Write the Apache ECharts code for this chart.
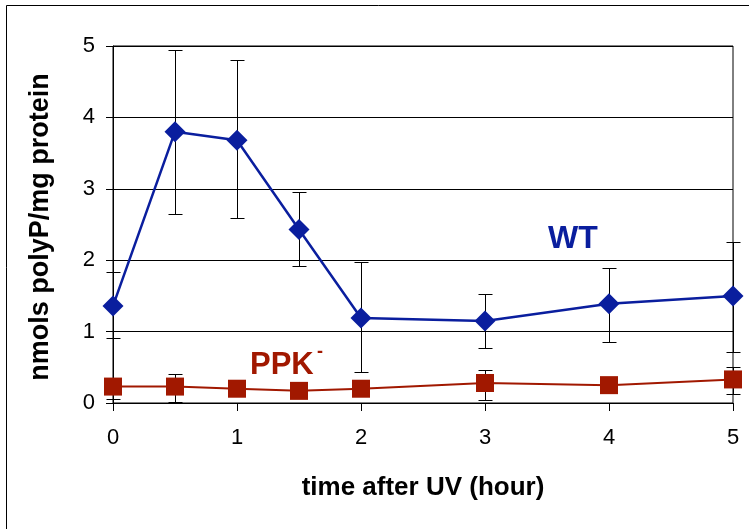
<!DOCTYPE html>
<html>
<head>
<meta charset="utf-8">
<script src="https://cdn.jsdelivr.net/npm/echarts@6/dist/echarts.min.js"></script>
<style>
html,body{margin:0;padding:0;background:#fff;}
#c{width:749px;height:529px;}
</style>
</head>
<body>
<div id="c"></div>
<script>
var times = [0, 0.5, 1, 1.5, 2, 3, 4, 5];
var wtMean = [1.36, 3.80, 3.68, 2.43, 1.19, 1.15, 1.39, 1.50];
var wtLow  = [0.91, 2.65, 2.59, 1.92, 0.43, 0.77, 0.85, 0.72];
var wtHigh = [1.83, 4.94, 4.80, 2.95, 1.97, 1.52, 1.89, 2.26];
var ppkMean = [0.23, 0.23, 0.20, 0.17, 0.20, 0.28, 0.25, 0.33];
var ppkLow  = [0.05, 0.02, 0.15, 0.12, 0.15, 0.04, 0.15, 0.13];
var ppkHigh = [0.35, 0.40, 0.25, 0.22, 0.25, 0.46, 0.35, 0.50];
var yTicks = [0, 1, 2, 3, 4, 5];
var xTicks = [0, 1, 2, 3, 4, 5];

var FONT = '"Liberation Sans", Arial, sans-serif';
var WT_COLOR = '#0A1E9E';
var PPK_COLOR = '#A11800';

function pairs(xs, ys){ return xs.map(function(x,i){ return [x, ys[i]]; }); }
function errData(xs, lo, hi){ return xs.map(function(x,i){ return [x, lo[i], hi[i]]; }); }

function errRender(params, api){
  var x = api.value(0);
  var p1 = api.coord([x, api.value(1)]);
  var p2 = api.coord([x, api.value(2)]);
  var cx = Math.round(p1[0]) + 0.5;
  var y1 = Math.round(p1[1]) + 0.5, y2 = Math.round(p2[1]) + 0.5;
  var w = 7;
  var st = {stroke:'#000', lineWidth:1};
  return {type:'group', children:[
    {type:'line', shape:{x1:cx, y1:y1, x2:cx, y2:y2}, style:st},
    {type:'line', shape:{x1:cx-w, y1:y1, x2:cx+w, y2:y1}, style:st},
    {type:'line', shape:{x1:cx-w, y1:y2, x2:cx+w, y2:y2}, style:st}
  ]};
}

var chart = echarts.init(document.getElementById('c'), null, {renderer:'canvas'});
chart.setOption({
  animation:false,
  backgroundColor:'#fff',
  grid:{left:113, right:16, top:46, bottom:126, show:true, borderColor:'#000', borderWidth:1, backgroundColor:'transparent'},
  xAxis:{
    type:'value', min:xTicks[0], max:xTicks[xTicks.length-1], interval:1,
    axisLine:{show:true, onZero:false, lineStyle:{color:'#000', width:1}},
    axisTick:{show:true, length:8, lineStyle:{color:'#000'}},
    axisLabel:{color:'#000', fontFamily:FONT, fontSize:22, margin:24},
    splitLine:{show:false}
  },
  yAxis:{
    type:'value', min:yTicks[0], max:yTicks[yTicks.length-1], interval:1,
    axisLine:{show:true, lineStyle:{color:'#000', width:1}},
    axisTick:{show:true, length:7, lineStyle:{color:'#000'}},
    axisLabel:{color:'#000', fontFamily:FONT, fontSize:22, margin:18},
    splitLine:{show:true, lineStyle:{color:'#000', width:1}}
  },
  graphic:[
    {type:'rect', shape:{x:6.5, y:5.5, width:800, height:600}, style:{fill:'none', stroke:'#000', lineWidth:1}, z:100, silent:true},
    {type:'text', x:41, y:227, rotation:Math.PI/2, style:{text:'nmols polyP/mg protein', font:'bold 27px ' + FONT, fill:'#000', align:'center', verticalAlign:'middle'}},
    {type:'text', x:423, y:488, style:{text:'time after UV (hour)', font:'bold 26px ' + FONT, fill:'#000', align:'center', verticalAlign:'middle'}},
    {type:'text', x:548, y:239, style:{text:'WT', font:'bold 32px ' + FONT, fill:WT_COLOR, align:'left', verticalAlign:'middle'}},
    {type:'text', x:250, y:365, style:{text:'PPK', font:'bold 31px ' + FONT, fill:PPK_COLOR, align:'left', verticalAlign:'middle'}},
    {type:'text', x:317, y:352, style:{text:'-', font:'bold 18px ' + FONT, fill:PPK_COLOR, align:'left', verticalAlign:'middle'}}
  ],
  series:[
    {type:'custom', renderItem:errRender, data:errData(times, wtLow, wtHigh), z:2, clip:false},
    {type:'custom', renderItem:errRender, data:errData(times, ppkLow, ppkHigh), z:2, clip:false},
    {type:'line', data:pairs(times, wtMean), z:5, clip:false,
     symbol:'diamond', symbolSize:21, showAllSymbol:true,
     itemStyle:{color:WT_COLOR}, lineStyle:{color:WT_COLOR, width:2.5}},
    {type:'line', data:pairs(times, ppkMean), z:4, clip:false,
     symbol:'rect', symbolSize:18, showAllSymbol:true,
     itemStyle:{color:PPK_COLOR}, lineStyle:{color:PPK_COLOR, width:2}}
  ]
});
</script>
</body>
</html>
